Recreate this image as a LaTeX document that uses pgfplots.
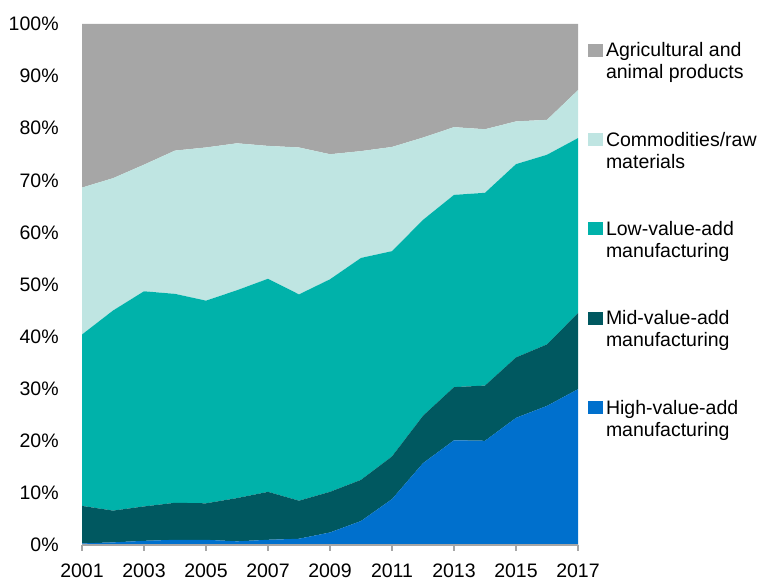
\documentclass[border=0pt]{standalone}
\usepackage{fontspec}
\setmainfont{Liberation Sans}
\usepackage{pgfplots}
\usepackage{pgfplotstable}
\pgfplotsset{compat=1.18}
\usetikzlibrary{calc}

\definecolor{AgriGray}{RGB}{166,166,166}
\definecolor{CommLight}{RGB}{191,229,226}
\definecolor{LowTeal}{RGB}{0,178,170}
\definecolor{MidTeal}{RGB}{0,88,96}
\definecolor{HighBlue}{RGB}{0,112,205}

% shares of exports, percent (stacked bottom to top)
\pgfplotstableread{
year high mid  low  comm agri
2001 0.3  7.2  32.9 28.2 31.4
2002 0.5  6.1  38.4 25.4 29.6
2003 0.8  6.6  41.3 24.3 27.0
2004 1.0  7.1  40.1 27.5 24.3
2005 1.0  7.0  38.9 29.4 23.7
2006 0.7  8.3  39.9 28.2 22.9
2007 1.0  9.2  40.9 25.5 23.4
2008 1.2  7.3  39.6 28.2 23.7
2009 2.4  7.8  40.8 24.0 25.0
2010 4.6  7.9  42.6 20.5 24.4
2011 8.8  8.2  39.4 20.0 23.6
2012 15.7 9.1  37.6 15.8 21.8
2013 20.1 10.2 36.9 13.0 19.8
2014 20.0 10.6 37.0 12.2 20.2
2015 24.4 11.6 37.1 8.2  18.7
2016 26.7 11.8 36.4 6.7  18.4
2017 29.9 14.6 33.6 9.2  12.7
}\shares

\newcommand{\lfont}{\fontsize{9.75}{11}\selectfont}

\begin{document}
\begin{tikzpicture}
\begin{axis}[
    scale only axis,
    width=248pt,
    height=260.5pt,
    xmin=2001, xmax=2017,
    ymin=0, ymax=100,
    stack plots=y,
    area style,
    axis on top,
    axis lines*=left,
    y axis line style={draw=none},
    x axis line style={draw=gray!70, line width=0.6pt},
    ytick={0,10,...,100},
    yticklabels={0\%,10\%,20\%,30\%,40\%,50\%,60\%,70\%,80\%,90\%,100\%},
    ytick style={draw=none},
    xtick={2001,2003,...,2017},
    xticklabels={2001,2003,2005,2007,2009,2011,2013,2015,2017},
    xtick style={draw=gray!70, line width=0.6pt},
    tick align=outside,
    major tick length=3pt,
    tick label style={font=\lfont},
    yticklabel style={inner sep=0pt, anchor=east, xshift=-8.5pt},
    xticklabel style={inner sep=0pt, anchor=north, yshift=-6pt},
    reverse legend,
    legend cell align=left,
    legend image code/.code={\fill[#1, draw=none] (0pt,0pt) rectangle (7.5pt,6.5pt);},
    legend style={
        at={(1,1)}, anchor=north west,
        xshift=5pt, yshift=-8.65pt,
        draw=none, fill=none, inner sep=0pt, outer sep=0pt,
        font=\lfont, row sep=35.5pt, column sep=1.5pt,
        nodes={inner sep=0pt, anchor=base west},
    },
]
\addplot[fill=HighBlue, draw=none] table[x=year, y=high] {\shares} \closedcycle;
\addplot[fill=MidTeal, draw=none] table[x=year, y=mid] {\shares} \closedcycle;
\addplot[fill=LowTeal, draw=none] table[x=year, y=low] {\shares} \closedcycle;
\addplot[fill=CommLight, draw=none] table[x=year, y=comm] {\shares} \closedcycle;
\addplot[fill=AgriGray, draw=none] table[x=year, y=agri] {\shares} \closedcycle;
\addlegendentry{\begin{tabular}[t]{@{}l@{}}High-value-add\\manufacturing\end{tabular}}
\addlegendentry{\begin{tabular}[t]{@{}l@{}}Mid-value-add\\manufacturing\end{tabular}}
\addlegendentry{\begin{tabular}[t]{@{}l@{}}Low-value-add\\manufacturing\end{tabular}}
\addlegendentry{\begin{tabular}[t]{@{}l@{}}Commodities/raw\\materials\end{tabular}}
\addlegendentry{\begin{tabular}[t]{@{}l@{}}Agricultural and\\animal products\end{tabular}}
\end{axis}
\path ($(current axis.south west)+(-41pt,-18pt)$) rectangle ($(current axis.north east)+(91pt,12pt)$);
\end{tikzpicture}
\end{document}
